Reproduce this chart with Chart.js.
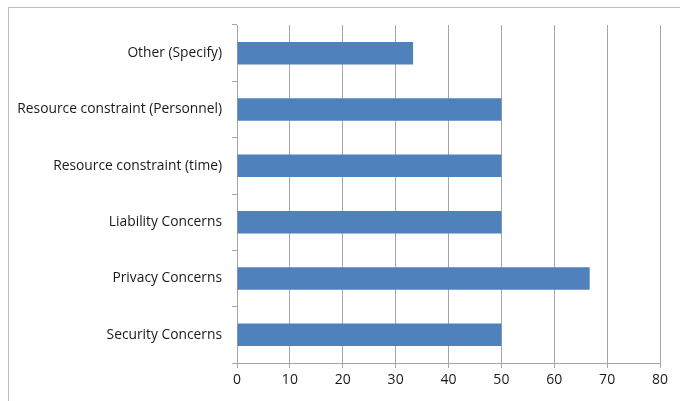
<!DOCTYPE html>
<html>
<head>
<meta charset="utf-8">
<script src="https://cdn.jsdelivr.net/npm/chart.js@4"></script>
<style>
  html, body { margin: 0; padding: 0; background: #fff; }
  .wrap { position: relative; width: 680px; height: 401px; overflow: hidden; }
  .frame { position: absolute; left: 8px; top: 7px; width: 700px; height: 420px;
           border-top: 1px solid #bfbfbf; border-left: 1px solid #bfbfbf; }
  canvas { position: absolute; left: 0; top: 0; }
</style>
</head>
<body>
<div class="wrap">
  <div class="frame"></div>
  <canvas class="my-chart" width="680" height="401"></canvas>
</div>
<script>
const categories = [
  "Other (Specify)",
  "Resource constraint (Personnel)",
  "Resource constraint (time)",
  "Liability Concerns",
  "Privacy Concerns",
  "Security Concerns"
];
const values = [33.3, 50, 50, 50, 66.7, 50];
const xTicks = [0, 10, 20, 30, 40, 50, 60, 70, 80];

const canvas = document.querySelector(".my-chart");
Chart.defaults.font.family = "'Open Sans', 'Noto Sans', sans-serif";
Chart.defaults.color = "#1a1a1a";

new Chart(canvas, {
  type: "bar",
  data: {
    labels: categories,
    datasets: [
      {
        data: values,
        backgroundColor: "#4f81bd",
        borderWidth: 0,
        categoryPercentage: 1,
        barPercentage: 0.4,
      },
    ],
  },
  options: {
    indexAxis: "y",
    responsive: false,
    animation: false,
    layout: { padding: { left: 0, right: 20, top: 25, bottom: 0 } },
    plugins: {
      legend: { display: false },
      tooltip: { enabled: false },
    },
    scales: {
      x: {
        min: 0,
        max: 80,
        afterBuildTicks: (s) => { s.ticks = xTicks.map((v) => ({ value: v })); },
        afterFit: (s) => { s.height = 401 - 363; },
        grid: { color: "#a6a6a6", tickLength: 5, lineWidth: 1 },
        border: { color: "#a6a6a6" },
        ticks: { padding: 4, font: { size: 14 } },
      },
      y: {
        afterFit: (s) => { s.width = 237; },
        grid: { drawOnChartArea: false, color: "#a6a6a6", tickLength: 5, offset: true },
        border: { color: "#a6a6a6" },
        ticks: { padding: 10, font: { size: 13.8 } },
      },
    },
  },
});
</script>
</body>
</html>
